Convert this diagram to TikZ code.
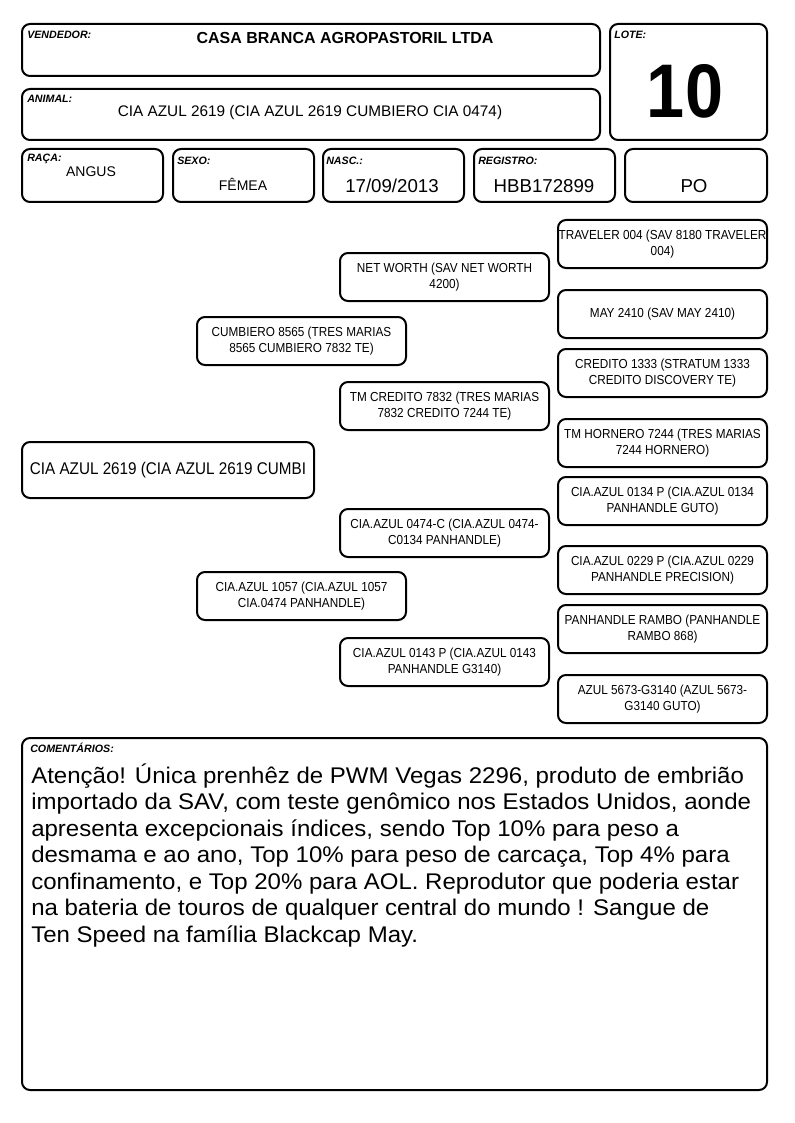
\documentclass[tikz,border=0pt]{standalone}
\usepackage{fontspec}
\setmainfont{Liberation Sans}
\newfontfamily\narrowfont[FakeStretch=0.9]{Liberation Sans}
\newfontfamily\widefont[FakeStretch=1.06]{Liberation Sans}

\tikzset{
  card/.style={draw, line width=1.5pt, rounded corners=6pt, anchor=north west, inner sep=0pt},
  field/.style={anchor=west, inner sep=0pt, font=\fontsize{8}{9}\selectfont\bfseries\itshape},
  pedbox/.style={card, minimum width=156.75pt, minimum height=36pt, align=center,
    font=\narrowfont\fontsize{9.8}{12}\selectfont},
}

\begin{document}
\begin{tikzpicture}[x=0.75pt,y=-0.75pt]
  \useasboundingbox[fill=white] (0,0) rectangle (794,1123);

  % header
  \node[card, minimum width=433.5pt, minimum height=39pt] (vendedor) at (21,23) {};
  \node[field] (vendedorlbl) at (27,35) {VENDEDOR:};
  \node[font=\fontsize{12}{14}\selectfont\bfseries] (vendedortxt) at (345,38) {CASA BRANCA AGROPASTORIL LTDA};

  \node[card, minimum width=433.5pt, minimum height=38.25pt] (animal) at (21,88) {};
  \node[field] (animallbl) at (27,99) {ANIMAL:};
  \node[font=\fontsize{11.5}{13}\selectfont] (animaltxt) at (310,113) {CIA AZUL 2619 (CIA AZUL 2619 CUMBIERO CIA 0474)};

  \node[card, minimum width=117.75pt, minimum height=87pt] (lote) at (609,23) {};
  \node[field] (lotelbl) at (614,35) {LOTE:};
  \node[font=\narrowfont\fontsize{57}{60}\selectfont\bfseries] (lotetxt) at (685,91) {10};

  % dados
  \node[card, minimum width=105.75pt, minimum height=39.75pt] (raca) at (21,148) {};
  \node[field] (racalbl) at (27,159) {RAÇA:};
  \node[font=\fontsize{10.5}{12}\selectfont] (racatxt) at (91,172) {ANGUS};

  \node[card, minimum width=105.75pt, minimum height=39.75pt] (sexo) at (172,148) {};
  \node[field] (sexolbl) at (177,161) {SEXO:};
  \node[font=\fontsize{10.5}{12}\selectfont] (sexotxt) at (243,184) {FÊMEA};

  \node[card, minimum width=105.75pt, minimum height=39.75pt] (nasc) at (322,148) {};
  \node[field] (nasclbl) at (326,161) {NASC.:};
  \node[font=\fontsize{14}{16}\selectfont] (nasctxt) at (392,186) {17/09/2013};

  \node[card, minimum width=105.75pt, minimum height=39.75pt] (registro) at (473,148) {};
  \node[field] (registrolbl) at (478,161) {REGISTRO:};
  \node[font=\fontsize{14}{16}\selectfont] (registrotxt) at (544,186) {HBB172899};

  \node[card, minimum width=106.5pt, minimum height=39.75pt] (categoria) at (624,148) {};
  \node[font=\fontsize{14}{16}\selectfont] (categoriatxt) at (694,186) {PO};

  % genealogia
  \node[card, minimum width=219pt, minimum height=42pt, font=\narrowfont\fontsize{12.7}{14}\selectfont] (animalped) at (21,441) {CIA AZUL 2619 (CIA AZUL 2619 CUMBI};

  \node[pedbox] (pai) at (196,316) {CUMBIERO 8565 (TRES MARIAS\\8565 CUMBIERO 7832 TE)};
  \node[pedbox] (mae) at (196,571) {CIA.AZUL 1057 (CIA.AZUL 1057\\CIA.0474 PANHANDLE)};

  \node[pedbox] (avopp) at (339,252) {NET WORTH (SAV NET WORTH\\4200)};
  \node[pedbox] (avopm) at (339,381) {TM CREDITO 7832 (TRES MARIAS\\7832 CREDITO 7244 TE)};
  \node[pedbox] (avomp) at (339,508) {CIA.AZUL 0474-C (CIA.AZUL 0474-\\C0134 PANHANDLE)};
  \node[pedbox] (avomm) at (339,637) {CIA.AZUL 0143 P (CIA.AZUL 0143\\PANHANDLE G3140)};

  \node[pedbox] (bisa1) at (557,219) {TRAVELER 004 (SAV 8180 TRAVELER\\004)};
  \node[pedbox] (bisa2) at (557,289) {MAY 2410 (SAV MAY 2410)};
  \node[pedbox] (bisa3) at (557,348) {CREDITO 1333 (STRATUM 1333\\CREDITO DISCOVERY TE)};
  \node[pedbox] (bisa4) at (557,418) {TM HORNERO 7244 (TRES MARIAS\\7244 HORNERO)};
  \node[pedbox] (bisa5) at (557,476) {CIA.AZUL 0134 P (CIA.AZUL 0134\\PANHANDLE GUTO)};
  \node[pedbox] (bisa6) at (557,545) {CIA.AZUL 0229 P (CIA.AZUL 0229\\PANHANDLE PRECISION)};
  \node[pedbox] (bisa7) at (557,604) {PANHANDLE RAMBO (PANHANDLE\\RAMBO 868)};
  \node[pedbox] (bisa8) at (557,674) {AZUL 5673-G3140 (AZUL 5673-\\G3140 GUTO)};

  % comentarios
  \node[card, minimum width=558.75pt, minimum height=264pt] (comentarios) at (21,737) {};
  \node[field] (comentarioslbl) at (30,748) {COMENTÁRIOS:};
  \node[anchor=base west, inner sep=0pt, align=left, font=\widefont\fontsize{17}{19.875}\selectfont] (comentariostxt) at (31,942)
    {Atenção! Única prenhêz de PWM Vegas 2296, produto de embrião\\
     importado da SAV, com teste genômico nos Estados Unidos, aonde\\
     apresenta excepcionais índices, sendo Top 10\% para peso a\\
     desmama e ao ano, Top 10\% para peso de carcaça, Top 4\% para\\
     confinamento, e Top 20\% para AOL. Reprodutor que poderia estar\\
     na bateria de touros de qualquer central do mundo ! Sangue de\\
     Ten Speed na família Blackcap May.};
\end{tikzpicture}
\end{document}
